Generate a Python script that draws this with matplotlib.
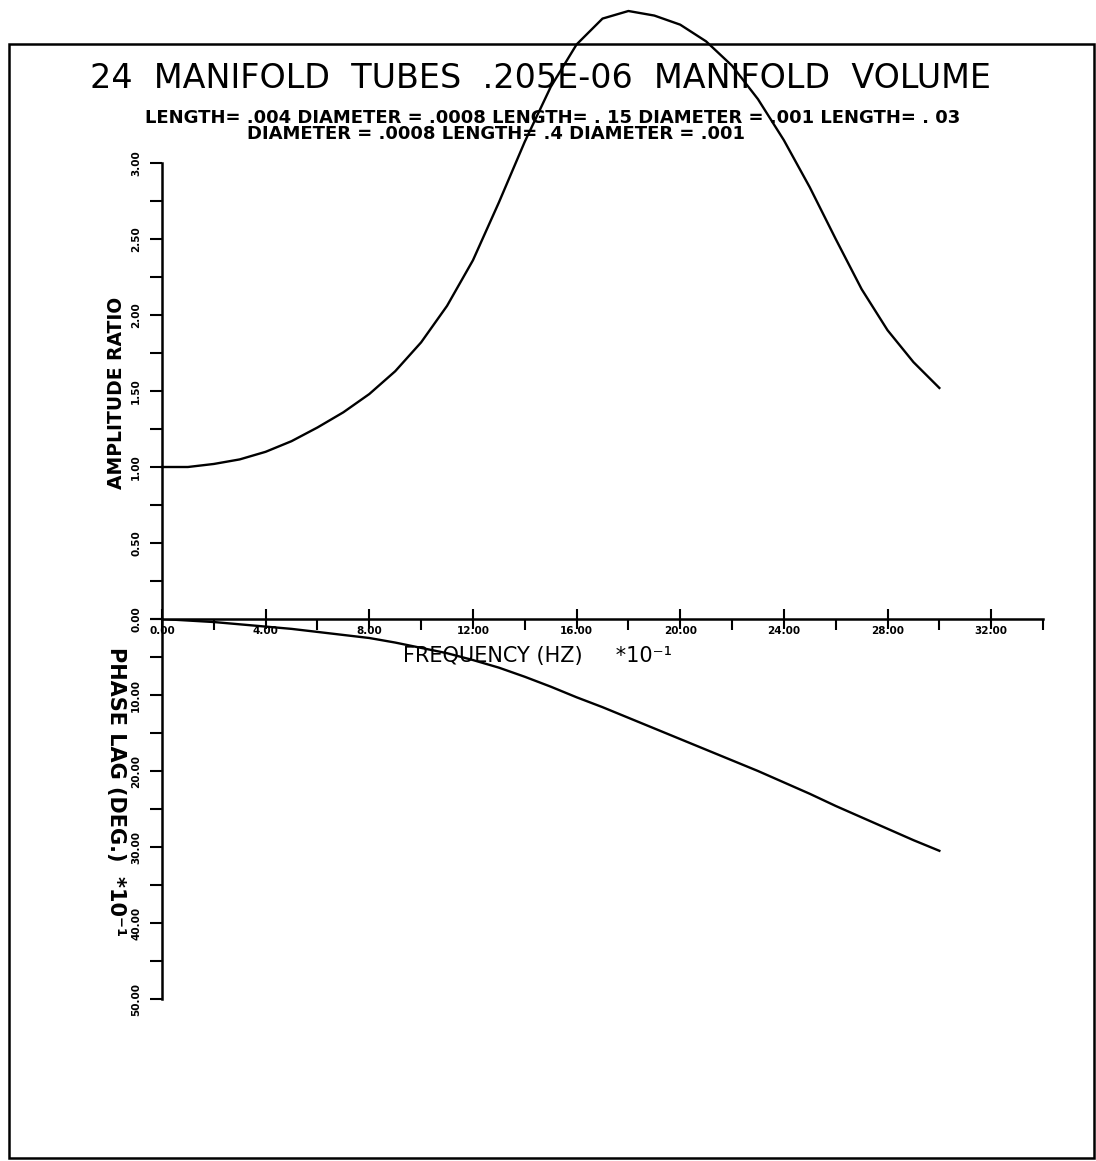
import numpy as np
import matplotlib
matplotlib.use("Agg")
import matplotlib.pyplot as plt
from matplotlib.patches import Rectangle
from matplotlib.ticker import MultipleLocator, FormatStrFormatter, FuncFormatter

# frequency (Hz *10^-1)
freq = [0, 1, 2, 3, 4, 5, 6, 7, 8, 9, 10, 11, 12, 13, 14, 15, 16, 17, 18,
        19, 20, 21, 22, 23, 24, 25, 26, 27, 28, 29, 30]
# amplitude ratio
amp = [1.00, 1.00, 1.02, 1.05, 1.10, 1.17, 1.26, 1.36, 1.48, 1.63, 1.82,
       2.06, 2.36, 2.74, 3.14, 3.50, 3.78, 3.95, 4.00, 3.97, 3.91, 3.80,
       3.64, 3.42, 3.15, 2.84, 2.50, 2.17, 1.90, 1.69, 1.52]
# phase lag (deg *10^-1)
phase = [0.0, 0.2, 0.4, 0.7, 1.0, 1.3, 1.7, 2.1, 2.5, 3.1, 3.8, 4.5, 5.4,
         6.4, 7.6, 8.9, 10.3, 11.6, 13.0, 14.4, 15.8, 17.2, 18.6, 20.0,
         21.5, 23.0, 24.6, 26.1, 27.6, 29.1, 30.5]

title = "24  MANIFOLD  TUBES  .205E-06  MANIFOLD  VOLUME"
sub1 = "LENGTH= .004 DIAMETER = .0008 LENGTH= . 15 DIAMETER = .001 LENGTH= . 03"
sub2 = "DIAMETER = .0008 LENGTH= .4 DIAMETER = .001"

W, H = 1096, 1161
fig = plt.figure(figsize=(W / 100, H / 100), dpi=100)


def box(x0, y0, x1, y1):
    # pixel box -> figure fraction [left, bottom, width, height]
    return [x0 / W, 1 - y1 / H, (x1 - x0) / W, (y1 - y0) / H]


ax = fig.add_axes(box(162, 163, 1043, 619))
ax2 = fig.add_axes(box(162, 619, 1043, 999), sharex=ax)

lw = 1.7
ax.plot(freq, amp, color="black", lw=lw, clip_on=False, zorder=5)
ax2.plot(freq, phase, color="black", lw=lw)

for a in (ax, ax2):
    a.set_facecolor("none")
    a.spines["top"].set_visible(False)
    a.spines["right"].set_visible(False)
    a.spines["left"].set_linewidth(1.8)
ax2.spines["bottom"].set_visible(False)
ax.spines["bottom"].set_linewidth(1.8)

ax.xaxis.set_major_locator(MultipleLocator(4))
ax.xaxis.set_minor_locator(MultipleLocator(2))
ax.xaxis.set_major_formatter(FormatStrFormatter("%.2f"))
ax.tick_params(axis="x", which="major", direction="inout", length=14, width=1.5,
               pad=2, labelsize=7.5)
ax.tick_params(axis="x", which="minor", direction="out", length=8, width=1.5)

ax.yaxis.set_major_locator(MultipleLocator(0.5))
ax.yaxis.set_minor_locator(MultipleLocator(0.25))
ax.yaxis.set_major_formatter(FormatStrFormatter("%.2f"))
ax.tick_params(axis="y", which="major", direction="out", length=9, width=1.5,
               pad=6, labelsize=7.5, labelrotation=90)
ax.tick_params(axis="y", which="minor", direction="out", length=9, width=1.5)

ax2.yaxis.set_major_locator(MultipleLocator(10))
ax2.yaxis.set_minor_locator(MultipleLocator(5))
ax2.yaxis.set_major_formatter(FuncFormatter(lambda v, p: "" if v == 0 else "%.2f" % v))
ax2.tick_params(axis="y", which="major", direction="out", length=9, width=1.5,
                pad=6, labelsize=7.5, labelrotation=90)
ax2.tick_params(axis="y", which="minor", direction="out", length=9, width=1.5)
ax2.tick_params(axis="x", which="both", bottom=False, labelbottom=False)

ax.set_xlim(0, 34)
ax.set_ylim(0, 3)
ax2.set_ylim(50, 0)

for a in (ax, ax2):
    for t in a.get_yticklabels() + a.get_xticklabels():
        t.set_fontweight("bold")
        t.set_va("center")

# axis labels
fig.text(117 / W, 1 - 393 / H, "AMPLITUDE RATIO", rotation=90, ha="center",
         va="center", fontsize=13.5, fontweight="bold")
fig.text(116 / W, 1 - 792 / H, "PHASE LAG (DEG.)  *10⁻¹", rotation=-90,
         ha="center", va="center", fontsize=15, fontweight="bold")
fig.text(403 / W, 1 - 656 / H, "FREQUENCY (HZ)     *10⁻¹", ha="left",
         va="center", fontsize=15)

# titles
fig.text(541 / W, 1 - 78 / H, title, ha="center", va="center", fontsize=24)
fig.text(553 / W, 1 - 118 / H, sub1, ha="center", va="center", fontsize=13,
         fontweight="bold")
fig.text(496 / W, 1 - 134 / H, sub2, ha="center", va="center", fontsize=13,
         fontweight="bold")

# page frame
fig.patches.append(Rectangle((9 / W, 1 - 1158 / H), (1094 - 9) / W,
                             (1158 - 44) / H, transform=fig.transFigure,
                             fill=False, lw=1.8, ec="black"))

fig.savefig("out.png", dpi=100, facecolor="white")
